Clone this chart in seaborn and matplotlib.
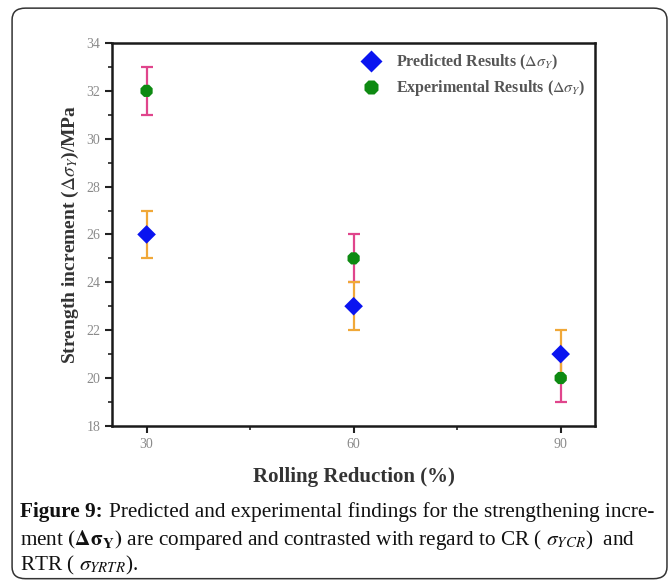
import matplotlib
matplotlib.use("Agg")
import matplotlib.pyplot as plt
import seaborn as sns
import pandas as pd
from matplotlib.patches import FancyBboxPatch
from matplotlib.ticker import MultipleLocator

reduction = [30, 60, 90]
predicted = [26, 23, 21]
predicted_err = [1, 1, 1]
experimental = [32, 25, 20]
experimental_err = [1, 1, 1]
series_names = ["Predicted Results ($\\Delta\\sigma_Y$)", "Experimental Results ($\\Delta\\sigma_Y$)"]
x_ticks = [30, 60, 90]
y_ticks = [18, 20, 22, 24, 26, 28, 30, 32, 34]

sns.set_style("white")
plt.rcParams['font.family'] = ['Liberation Serif', 'DejaVu Serif']
plt.rcParams['mathtext.fontset'] = 'stix'

df = pd.DataFrame({
    "reduction": reduction * 2,
    "value": predicted + experimental,
    "err": predicted_err + experimental_err,
    "series": [series_names[0]] * 3 + [series_names[1]] * 3,
})

fig = plt.figure(figsize=(6.71, 5.81), dpi=100)
ax = fig.add_axes([0.167, 0.267, 0.72, 0.659])

err_colors = {series_names[0]: "#F0A838", series_names[1]: "#E0458C"}
for name in series_names[::-1]:
    sub = df[df.series == name]
    ax.errorbar(sub.reduction, sub.value, yerr=sub.err, fmt="none",
                ecolor=err_colors[name], elinewidth=1.6, capsize=4, capthick=1.6, zorder=2)

sns.scatterplot(data=df, x="reduction", y="value", hue="series", style="series",
                markers={series_names[0]: "D", series_names[1]: "8"},
                palette={series_names[0]: "#0A14F0", series_names[1]: "#0E8A12"},
                s=90, edgecolor="none", ax=ax, zorder=3, legend=True)

ax.set_xlim(25, 95)
ax.set_ylim(18, 34)
ax.set_xticks(x_ticks)
ax.set_yticks(y_ticks)
ax.xaxis.set_minor_locator(MultipleLocator(15))
ax.yaxis.set_minor_locator(MultipleLocator(1))
ax.tick_params(axis="both", which="major", direction="out", length=5, width=1.5,
               colors="#222222", labelcolor="#8a8a8a", labelsize=10, left=True, bottom=True)
ax.tick_params(axis="both", which="minor", direction="out", length=3, width=1.2,
               colors="#222222", left=True, bottom=True)
for sp in ax.spines.values():
    sp.set_linewidth(1.8)
    sp.set_color("#1a1a1a")

ax.set_xlabel("Rolling Reduction (%)", fontsize=15, fontweight="bold", color="#333333", labelpad=12)
ax.set_ylabel("Strength increment ($\\Delta\\sigma_Y$)/MPa", fontsize=14, fontweight="bold",
              color="#333333", labelpad=4)

leg = ax.legend(loc="upper right", frameon=False, handletextpad=0.6,
                borderaxespad=0.2, labelcolor="#555555", markerscale=1.2,
                prop={"size": 11.5, "weight": "bold"}, labelspacing=0.4)

box = FancyBboxPatch((0.018, 0.004), 0.976, 0.982, boxstyle="round,pad=0,rounding_size=0.02",
                     transform=fig.transFigure, fill=False, edgecolor="#333333", linewidth=1.1)
fig.patches.append(box)

cap_kw = dict(fontsize=15.3, color="#111111", transform=fig.transFigure, va="baseline")
t = fig.text(0.03, 0.11, "Figure 9:", fontweight="bold", **cap_kw)
renderer = fig.canvas.get_renderer()
bb = t.get_window_extent(renderer=renderer)
x_next = (bb.x1 + 6) / fig.bbox.width
fig.text(x_next, 0.11, "Predicted and experimental findings for the strengthening incre-", **cap_kw)
fig.text(0.03, 0.062, "ment $\\mathbf{(\\Delta\\sigma_Y)}$ are compared and contrasted with regard to CR ( $\\boldsymbol{\\sigma_{YCR}}$)  and", **cap_kw)
fig.text(0.03, 0.018, "RTR ( $\\boldsymbol{\\sigma_{YRTR}}$).", **cap_kw)

fig.savefig("out.png", dpi=100)
